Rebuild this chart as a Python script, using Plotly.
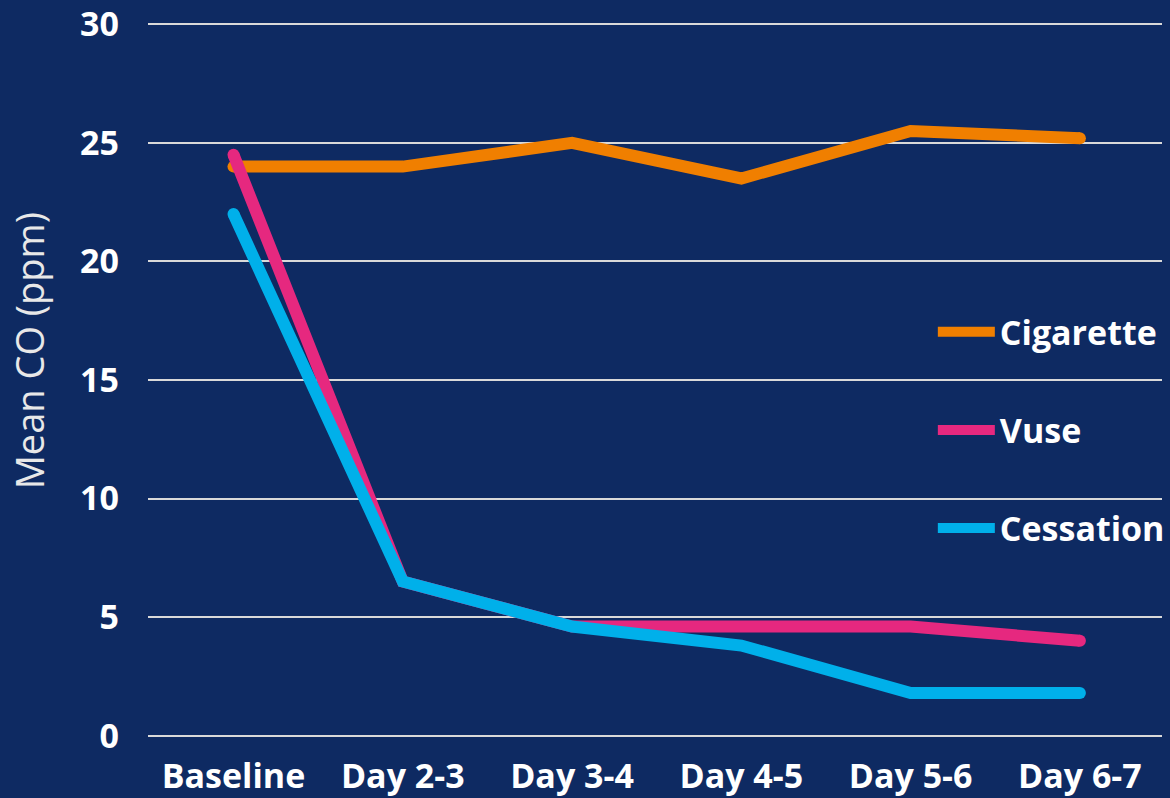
import plotly.graph_objects as go

categories = ["Baseline", "Day 2-3", "Day 3-4", "Day 4-5", "Day 5-6", "Day 6-7"]
cigarette = [24.0, 24.0, 25.0, 23.5, 25.5, 25.2]
vuse = [24.5, 6.5, 4.6, 4.6, 4.6, 4.0]
cessation = [22.0, 6.5, 4.6, 3.8, 1.8, 1.8]
y_ticks = [0, 5, 10, 15, 20, 25, 30]

series = [
    ("Cigarette", cigarette, "#F07F00"),
    ("Vuse", vuse, "#E6287F"),
    ("Cessation", cessation, "#00B0EA"),
]

BG = "#0E2A62"
FONT = "Open Sans"
LW = 12
W, H = 1170, 798
ML, MR, MT, MB = 148, 0, 17, 55

fig = go.Figure()
for name, vals, color in series:
    fig.add_trace(go.Scatter(
        x=categories, y=vals, mode="lines", name=name,
        line=dict(color=color, width=LW),
        legendgroup=name,
    ))
    # round end caps
    fig.add_trace(go.Scatter(
        x=[categories[0], categories[-1]], y=[vals[0], vals[-1]],
        mode="markers", showlegend=False, hoverinfo="skip",
        marker=dict(color=color, size=LW, line=dict(width=0)),
        legendgroup=name,
    ))

fig.add_annotation(
    text="Mean CO (ppm)", textangle=-90, showarrow=False,
    xref="paper", yref="paper",
    x=(28 - ML) / (W - ML - MR), y=(H - MB - 350) / (H - MT - MB),
    xanchor="center", yanchor="middle",
    font=dict(family=FONT, size=38, color="#E8E8E8"),
)

fig.update_layout(
    width=W, height=H,
    paper_bgcolor=BG, plot_bgcolor=BG,
    margin=dict(l=ML, r=MR, t=MT, b=MB),
    font=dict(family=FONT, color="white"),
    showlegend=True,
    legend=dict(
        x=0.774, xanchor="left", y=0.43, yanchor="middle",
        bgcolor="rgba(0,0,0,0)",
        font=dict(family=FONT, size=34, color="white", weight="bold"),
        tracegroupgap=51, itemwidth=57,
        traceorder="grouped",
    ),
    xaxis=dict(
        type="category", range=[-0.505, 5.485],
        showgrid=False, zeroline=False, showline=False, ticks="",
        tickfont=dict(family=FONT, size=34, color="white", weight="bold"),
        ticklabelstandoff=15,
    ),
    yaxis=dict(
        range=[-0.1, 30.1], tickvals=y_ticks,
        showgrid=True, gridcolor="#D9D9D9", gridwidth=2,
        zeroline=False, showline=False, ticks="",
        tickfont=dict(family=FONT, size=34, color="white", weight="bold"),
        ticklabelstandoff=28, ticklabeloverflow="allow",
    ),
)

fig.write_html(
    "out.html",
    config={"displayModeBar": False},
    post_script="document.body.style.margin='0';document.body.style.background='%s';" % BG,
)
